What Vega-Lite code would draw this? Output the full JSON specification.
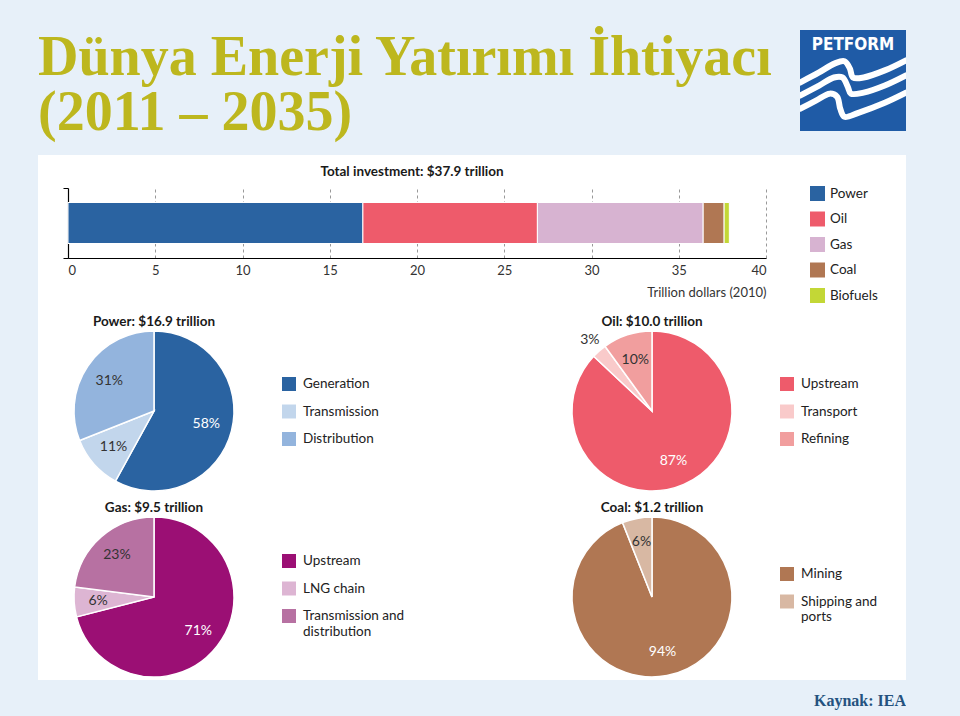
{
"$schema":"https://vega.github.io/schema/vega-lite/v6.json",
"background":"white",
"padding":0,
"columns":5,
"spacing":0,
"bounds":"flush",
"align":"each",
"config":{"view":{"stroke":null},"font":"Lato","axis":{"labelFont":"Lato","titleFont":"Lato"},"legend":{"labelFont":"Lato"},"title":{"font":"Lato"}},
"resolve":{"scale":{"color":"independent","theta":"independent","x":"independent","y":"independent"},"legend":{"color":"independent"}},
"concat":[
 {"width":38,"height":30,"view":{"fill":"#E7F0F9","stroke":null},"data":{"values":[]},"mark":"point"},
 {"width":30,"height":30,"view":{"fill":"#E7F0F9","stroke":null},"data":{"values":[]},"mark":"point"},
 {"width":732,"height":30,"view":{"fill":"#E7F0F9","stroke":null},"data":{"values":[]},"mark":"point"},
 {"width":106,"height":30,"view":{"fill":"#E7F0F9","stroke":null},"data":{"values":[]},"mark":"point"},
 {"width":54,"height":30,"view":{"fill":"#E7F0F9","stroke":null},"data":{"values":[]},"mark":"point"},

 {"width":38,"height":101,"view":{"fill":"#E7F0F9","stroke":null},"data":{"values":[]},"mark":"point"},
 {"width":30,"height":101,"view":{"fill":"#E7F0F9","stroke":null},"data":{"values":[]},"mark":"point"},
 {"width":732,"height":101,"view":{"fill":"#E7F0F9","stroke":null},"data":{"values":[]},"mark":"point"},
 {"width":106,"height":101,"view":{"fill":"#1F5BA6","stroke":null},
  "title":{"text":"PETFORM","frame":"group","anchor":"middle","orient":"top","offset":-24,"baseline":"top","font":"DejaVu Sans Condensed, Liberation Sans Narrow, Roboto, sans-serif","fontSize":17,"fontWeight":"bold","color":"white"},
  "data":{"values":[
    {"wave":1,"i":1,"x":0.0,"y":0.52},{"wave":1,"i":2,"x":0.18,"y":0.42},{"wave":1,"i":3,"x":0.33,"y":0.33},{"wave":1,"i":4,"x":0.42,"y":0.31},{"wave":1,"i":5,"x":0.47,"y":0.38},{"wave":1,"i":6,"x":0.50,"y":0.47},{"wave":1,"i":7,"x":0.60,"y":0.47},{"wave":1,"i":8,"x":0.80,"y":0.40},{"wave":1,"i":9,"x":1.0,"y":0.30},
    {"wave":2,"i":1,"x":0.0,"y":0.65},{"wave":2,"i":2,"x":0.18,"y":0.55},{"wave":2,"i":3,"x":0.32,"y":0.47},{"wave":2,"i":4,"x":0.40,"y":0.47},{"wave":2,"i":5,"x":0.45,"y":0.56},{"wave":2,"i":6,"x":0.48,"y":0.63},{"wave":2,"i":7,"x":0.60,"y":0.62},{"wave":2,"i":8,"x":0.80,"y":0.55},{"wave":2,"i":9,"x":1.0,"y":0.45},
    {"wave":3,"i":1,"x":0.0,"y":0.78},{"wave":3,"i":2,"x":0.15,"y":0.70},{"wave":3,"i":3,"x":0.28,"y":0.63},{"wave":3,"i":4,"x":0.35,"y":0.66},{"wave":3,"i":5,"x":0.38,"y":0.78},{"wave":3,"i":6,"x":0.42,"y":0.86},{"wave":3,"i":7,"x":0.55,"y":0.82},{"wave":3,"i":8,"x":0.80,"y":0.72},{"wave":3,"i":9,"x":1.0,"y":0.62}
  ]},
  "mark":{"type":"line","interpolate":"catmull-rom","color":"white","strokeWidth":6,"strokeCap":"round","clip":true},
  "encoding":{
    "x":{"field":"x","type":"quantitative","scale":{"domain":[0,1]},"axis":null},
    "y":{"field":"y","type":"quantitative","scale":{"domain":[1,0]},"axis":null},
    "detail":{"field":"wave","type":"nominal"},
    "order":{"field":"i","type":"quantitative"}
  }},
 {"width":54,"height":101,"view":{"fill":"#E7F0F9","stroke":null},"data":{"values":[]},"mark":"point"},

 {"width":38,"height":24,"view":{"fill":"#E7F0F9","stroke":null},"data":{"values":[]},"mark":"point"},
 {"width":30,"height":24,"view":{"fill":"#E7F0F9","stroke":null},"data":{"values":[]},"mark":"point"},
 {"width":732,"height":24,"view":{"fill":"#E7F0F9","stroke":null},
  "title":{"text":["Dünya Enerji Yatırımı İhtiyacı","(2011 – 2035)"],"frame":"group","anchor":"start","orient":"top","dx":-30,"offset":-11,"baseline":"top","lineHeight":55,"font":"Liberation Serif","fontSize":56,"fontWeight":"bold","color":"#BDB71E"},
  "data":{"values":[]},"mark":"point"},
 {"width":106,"height":24,"view":{"fill":"#E7F0F9","stroke":null},"data":{"values":[]},"mark":"point"},
 {"width":54,"height":24,"view":{"fill":"#E7F0F9","stroke":null},"data":{"values":[]},"mark":"point"},

 {"width":38,"height":33,"view":{"fill":"#E7F0F9","stroke":null},"data":{"values":[]},"mark":"point"},
 {"width":30,"height":33,"data":{"values":[]},"mark":"point"},
 {"width":732,"height":33,"data":{"values":[]},"mark":"point"},
 {"width":106,"height":33,"data":{"values":[]},"mark":"point"},
 {"width":54,"height":33,"view":{"fill":"#E7F0F9","stroke":null},"data":{"values":[]},"mark":"point"},

 {"width":38,"height":70,"view":{"fill":"#E7F0F9","stroke":null},"data":{"values":[]},"mark":"point"},
 {"width":30,"height":70,"data":{"values":[]},"mark":"point"},
 {"width":698,"height":70,
  "title":{"text":"Total investment: $37.9 trillion","frame":"group","anchor":"middle","dx":-5,"offset":8,"fontSize":13.5,"fontWeight":"bold","color":"#1a1a1a"},
  "data":{"values":[
    {"sector":"Power","value":16.9,"idx":1},
    {"sector":"Oil","value":10.0,"idx":2},
    {"sector":"Gas","value":9.5,"idx":3},
    {"sector":"Coal","value":1.2,"idx":4},
    {"sector":"Biofuels","value":0.3,"idx":5}
  ]},
  "mark":{"type":"bar","size":41,"stroke":"white","strokeWidth":1},
  "encoding":{
    "y":{"datum":"Total","type":"nominal","scale":{"paddingInner":0,"paddingOuter":0},
         "axis":{"labels":false,"title":null,"domain":true,"domainColor":"#000","domainWidth":1.2,"ticks":true,"tickBand":"extent","tickSize":5,"tickColor":"#000","grid":false}},
    "x":{"field":"value","type":"quantitative","stack":true,"scale":{"domain":[0,40],"nice":false},
         "axis":{"values":[0,5,10,15,20,25,30,35,40],"title":"Trillion dollars (2010)","titleAnchor":"end","titleAlign":"right","titleFontSize":13,"titleFontWeight":"normal","titleColor":"#333","titlePadding":9,"labelFontSize":13,"labelColor":"#333","labelPadding":6,"ticks":false,"domainColor":"#000","domainWidth":1.2,"grid":true,"gridDash":[3,3],"gridColor":"#999","gridWidth":1}},
    "color":{"field":"sector","type":"nominal","scale":{"domain":["Power","Oil","Gas","Coal","Biofuels"],"range":["#2A63A1","#EE5B6B","#D7B3D1","#B07753","#C3D736"]},
         "legend":{"orient":"none","legendX":742,"legendY":-2,"title":null,"symbolType":"square","symbolSize":225,"symbolStrokeWidth":0,"labelFontSize":13.5,"labelOffset":5,"rowPadding":10.5,"labelColor":"#222","padding":0}},
    "order":{"field":"idx","type":"quantitative"}
  }},
 {"width":106,"height":70,"data":{"values":[]},"mark":"point"},
 {"width":54,"height":70,"view":{"fill":"#E7F0F9","stroke":null},"data":{"values":[]},"mark":"point"},

 {"width":38,"height":73,"view":{"fill":"#E7F0F9","stroke":null},"data":{"values":[]},"mark":"point"},
 {"width":30,"height":73,"data":{"values":[]},"mark":"point"},
 {"width":732,"height":73,"data":{"values":[]},"mark":"point"},
 {"width":106,"height":73,"data":{"values":[]},"mark":"point"},
 {"width":54,"height":73,"view":{"fill":"#E7F0F9","stroke":null},"data":{"values":[]},"mark":"point"},

 {"width":38,"height":160,"view":{"fill":"#E7F0F9","stroke":null},"data":{"values":[]},"mark":"point"},
 {"width":30,"height":160,"data":{"values":[]},"mark":"point"},
 {"width":670,"height":160,
  "data":{"values":[
    {"sector":"Power","part":"Generation","share":58,"idx":1},
    {"sector":"Power","part":"Transmission","share":11,"idx":2},
    {"sector":"Power","part":"Distribution","share":31,"idx":3},
    {"sector":"Oil","part":"Upstream","share":87,"idx":1},
    {"sector":"Oil","part":"Transport","share":3,"idx":2},
    {"sector":"Oil","part":"Refining","share":10,"idx":3}
  ]},
  "transform":[
    {"stack":"share","groupby":["sector"],"sort":[{"field":"idx","order":"ascending"}],"as":["t0","t1"]},
    {"calculate":"(datum.t0 + datum.t1) / 2","as":"mid"},
    {"calculate":"datum.share + '%'","as":"pct"}
  ],
  "layer":[
    {"transform":[{"filter":"datum.sector == 'Power'"}],
     "mark":{"type":"arc","outerRadius":80,"stroke":"white","strokeWidth":1.5},
     "encoding":{
       "x":{"field":"sector","type":"nominal","scale":{"type":"point","domain":["Power","Oil"],"padding":0.1727},"axis":null},
       "theta":{"field":"t0","type":"quantitative","stack":null,"scale":{"domain":[0,100]}},
       "theta2":{"field":"t1"},
       "color":{"field":"part","type":"nominal","scale":{"domain":["Generation","Transmission","Distribution"],"range":["#2A63A1","#C2D6EC","#93B4DD"]},
         "legend":{"orient":"none","legendX":214,"legendY":46,"title":null,"symbolType":"square","symbolSize":196,"symbolStrokeWidth":0,"labelFontSize":13.5,"labelOffset":7,"rowPadding":13.5,"labelColor":"#222","padding":0}}
     }},
    {"transform":[{"filter":"datum.sector == 'Oil'"}],
     "mark":{"type":"arc","outerRadius":80,"stroke":"white","strokeWidth":1.5},
     "encoding":{
       "x":{"field":"sector","type":"nominal","scale":{"type":"point","domain":["Power","Oil"],"padding":0.1727},"axis":null},
       "theta":{"field":"t0","type":"quantitative","stack":null,"scale":{"domain":[0,100]}},
       "theta2":{"field":"t1"},
       "color":{"field":"part","type":"nominal","scale":{"domain":["Upstream","Transport","Refining"],"range":["#EE5B6B","#F9CACA","#F19E9E"]},
         "legend":{"orient":"none","legendX":712,"legendY":46,"title":null,"symbolType":"square","symbolSize":196,"symbolStrokeWidth":0,"labelFontSize":13.5,"labelOffset":7,"rowPadding":13.5,"labelColor":"#222","padding":0}}
     }},
    {"transform":[{"filter":"datum.share >= 5"}],
     "mark":{"type":"text","fontSize":14,"radius":54},
     "encoding":{
       "x":{"field":"sector","type":"nominal","scale":{"type":"point","domain":["Power","Oil"],"padding":0.1727},"axis":null},
       "theta":{"field":"mid","type":"quantitative","stack":null,"scale":{"domain":[0,100]}},
       "text":{"field":"pct"},
       "color":{"condition":{"test":"datum.share > 50","value":"white"},"value":"#333"}
     }},
    {"transform":[{"filter":"datum.share < 5"}],
     "mark":{"type":"text","fontSize":14,"radius":94,"color":"#333"},
     "encoding":{
       "x":{"field":"sector","type":"nominal","scale":{"type":"point","domain":["Power","Oil"],"padding":0.1727},"axis":null},
       "theta":{"field":"mid","type":"quantitative","stack":null,"scale":{"domain":[0,100]}},
       "text":{"field":"pct"}
     }},
    {"data":{"values":[{"sector":"Power","total":16.9},{"sector":"Oil","total":10.0}]},
     "transform":[{"calculate":"datum.sector + ': $' + format(datum.total, '.1f') + ' trillion'","as":"heading"}],
     "mark":{"type":"text","fontSize":13.5,"fontWeight":"bold","color":"#1a1a1a","baseline":"middle","radius":89},
     "encoding":{
       "x":{"field":"sector","type":"nominal","scale":{"type":"point","domain":["Power","Oil"],"padding":0.1727},"axis":null},
       "theta":{"datum":0,"type":"quantitative","scale":{"domain":[0,100]}},
       "text":{"field":"heading"}
     }}
  ],
  "resolve":{"scale":{"color":"independent"},"legend":{"color":"independent"}}},
 {"width":106,"height":160,"data":{"values":[]},"mark":"point"},
 {"width":54,"height":160,"view":{"fill":"#E7F0F9","stroke":null},"data":{"values":[]},"mark":"point"},

 {"width":38,"height":26,"view":{"fill":"#E7F0F9","stroke":null},"data":{"values":[]},"mark":"point"},
 {"width":30,"height":26,"data":{"values":[]},"mark":"point"},
 {"width":732,"height":26,"data":{"values":[]},"mark":"point"},
 {"width":106,"height":26,"data":{"values":[]},"mark":"point"},
 {"width":54,"height":26,"view":{"fill":"#E7F0F9","stroke":null},"data":{"values":[]},"mark":"point"},

 {"width":38,"height":160,"view":{"fill":"#E7F0F9","stroke":null},"data":{"values":[]},"mark":"point"},
 {"width":30,"height":160,"data":{"values":[]},"mark":"point"},
 {"width":670,"height":160,
  "data":{"values":[
    {"sector":"Gas","part":"Upstream","share":71,"idx":1},
    {"sector":"Gas","part":"LNG chain","share":6,"idx":2},
    {"sector":"Gas","part":"Transmission and distribution","share":23,"idx":3},
    {"sector":"Coal","part":"Mining","share":94,"idx":1},
    {"sector":"Coal","part":"Shipping and ports","share":6,"idx":2}
  ]},
  "transform":[
    {"stack":"share","groupby":["sector"],"sort":[{"field":"idx","order":"ascending"}],"as":["t0","t1"]},
    {"calculate":"(datum.t0 + datum.t1) / 2","as":"mid"},
    {"calculate":"datum.share + '%'","as":"pct"}
  ],
  "layer":[
    {"transform":[{"filter":"datum.sector == 'Gas'"}],
     "mark":{"type":"arc","outerRadius":80,"stroke":"white","strokeWidth":1.5},
     "encoding":{
       "x":{"field":"sector","type":"nominal","scale":{"type":"point","domain":["Gas","Coal"],"padding":0.1727},"axis":null},
       "theta":{"field":"t0","type":"quantitative","stack":null,"scale":{"domain":[0,100]}},
       "theta2":{"field":"t1"},
       "color":{"field":"part","type":"nominal","scale":{"domain":["Upstream","LNG chain","Transmission and distribution"],"range":["#9B0F74","#DDB5D3","#B771A2"]},
         "legend":{"orient":"none","legendX":214,"legendY":37,"title":null,"symbolType":"square","symbolSize":196,"symbolStrokeWidth":0,"labelFontSize":13.5,"labelOffset":7,"rowPadding":13.5,"labelColor":"#222","padding":0,
           "labelExpr":"datum.label == 'Transmission and distribution' ? ['Transmission and', 'distribution'] : datum.label"}}
     }},
    {"transform":[{"filter":"datum.sector == 'Coal'"}],
     "mark":{"type":"arc","outerRadius":80,"stroke":"white","strokeWidth":1.5},
     "encoding":{
       "x":{"field":"sector","type":"nominal","scale":{"type":"point","domain":["Gas","Coal"],"padding":0.1727},"axis":null},
       "theta":{"field":"t0","type":"quantitative","stack":null,"scale":{"domain":[0,100]}},
       "theta2":{"field":"t1"},
       "color":{"field":"part","type":"nominal","scale":{"domain":["Mining","Shipping and ports"],"range":["#B07753","#D8B8A3"]},
         "legend":{"orient":"none","legendX":712,"legendY":50,"title":null,"symbolType":"square","symbolSize":196,"symbolStrokeWidth":0,"labelFontSize":13.5,"labelOffset":7,"rowPadding":13.5,"labelColor":"#222","padding":0,
           "labelExpr":"datum.label == 'Shipping and ports' ? ['Shipping and', 'ports'] : datum.label"}}
     }},
    {"mark":{"type":"text","fontSize":14,"radius":56},
     "encoding":{
       "x":{"field":"sector","type":"nominal","scale":{"type":"point","domain":["Gas","Coal"],"padding":0.1727},"axis":null},
       "theta":{"field":"mid","type":"quantitative","stack":null,"scale":{"domain":[0,100]}},
       "text":{"field":"pct"},
       "color":{"condition":{"test":"datum.share > 50","value":"white"},"value":"#333"}
     }},
    {"data":{"values":[{"sector":"Gas","total":9.5},{"sector":"Coal","total":1.2}]},
     "transform":[{"calculate":"datum.sector + ': $' + format(datum.total, '.1f') + ' trillion'","as":"heading"}],
     "mark":{"type":"text","fontSize":13.5,"fontWeight":"bold","color":"#1a1a1a","baseline":"middle","radius":89},
     "encoding":{
       "x":{"field":"sector","type":"nominal","scale":{"type":"point","domain":["Gas","Coal"],"padding":0.1727},"axis":null},
       "theta":{"datum":0,"type":"quantitative","scale":{"domain":[0,100]}},
       "text":{"field":"heading"}
     }}
  ],
  "resolve":{"scale":{"color":"independent"},"legend":{"color":"independent"}}},
 {"width":106,"height":160,"data":{"values":[]},"mark":"point"},
 {"width":54,"height":160,"view":{"fill":"#E7F0F9","stroke":null},"data":{"values":[]},"mark":"point"},

 {"width":38,"height":3,"view":{"fill":"#E7F0F9","stroke":null},"data":{"values":[]},"mark":"point"},
 {"width":30,"height":3,"data":{"values":[]},"mark":"point"},
 {"width":732,"height":3,"data":{"values":[]},"mark":"point"},
 {"width":106,"height":3,"data":{"values":[]},"mark":"point"},
 {"width":54,"height":3,"view":{"fill":"#E7F0F9","stroke":null},"data":{"values":[]},"mark":"point"},

 {"width":38,"height":36,"view":{"fill":"#E7F0F9","stroke":null},"data":{"values":[]},"mark":"point"},
 {"width":30,"height":36,"view":{"fill":"#E7F0F9","stroke":null},"data":{"values":[]},"mark":"point"},
 {"width":732,"height":36,"view":{"fill":"#E7F0F9","stroke":null},"data":{"values":[]},"mark":"point"},
 {"width":106,"height":36,"view":{"fill":"#E7F0F9","stroke":null},
  "title":{"text":"Kaynak: IEA","frame":"group","anchor":"end","orient":"top","dx":0,"offset":-37,"baseline":"middle","font":"Liberation Serif","fontSize":16,"fontWeight":"bold","color":"#24527F"},
  "data":{"values":[]},"mark":"point"},
 {"width":54,"height":36,"view":{"fill":"#E7F0F9","stroke":null},"data":{"values":[]},"mark":"point"}
]
}
